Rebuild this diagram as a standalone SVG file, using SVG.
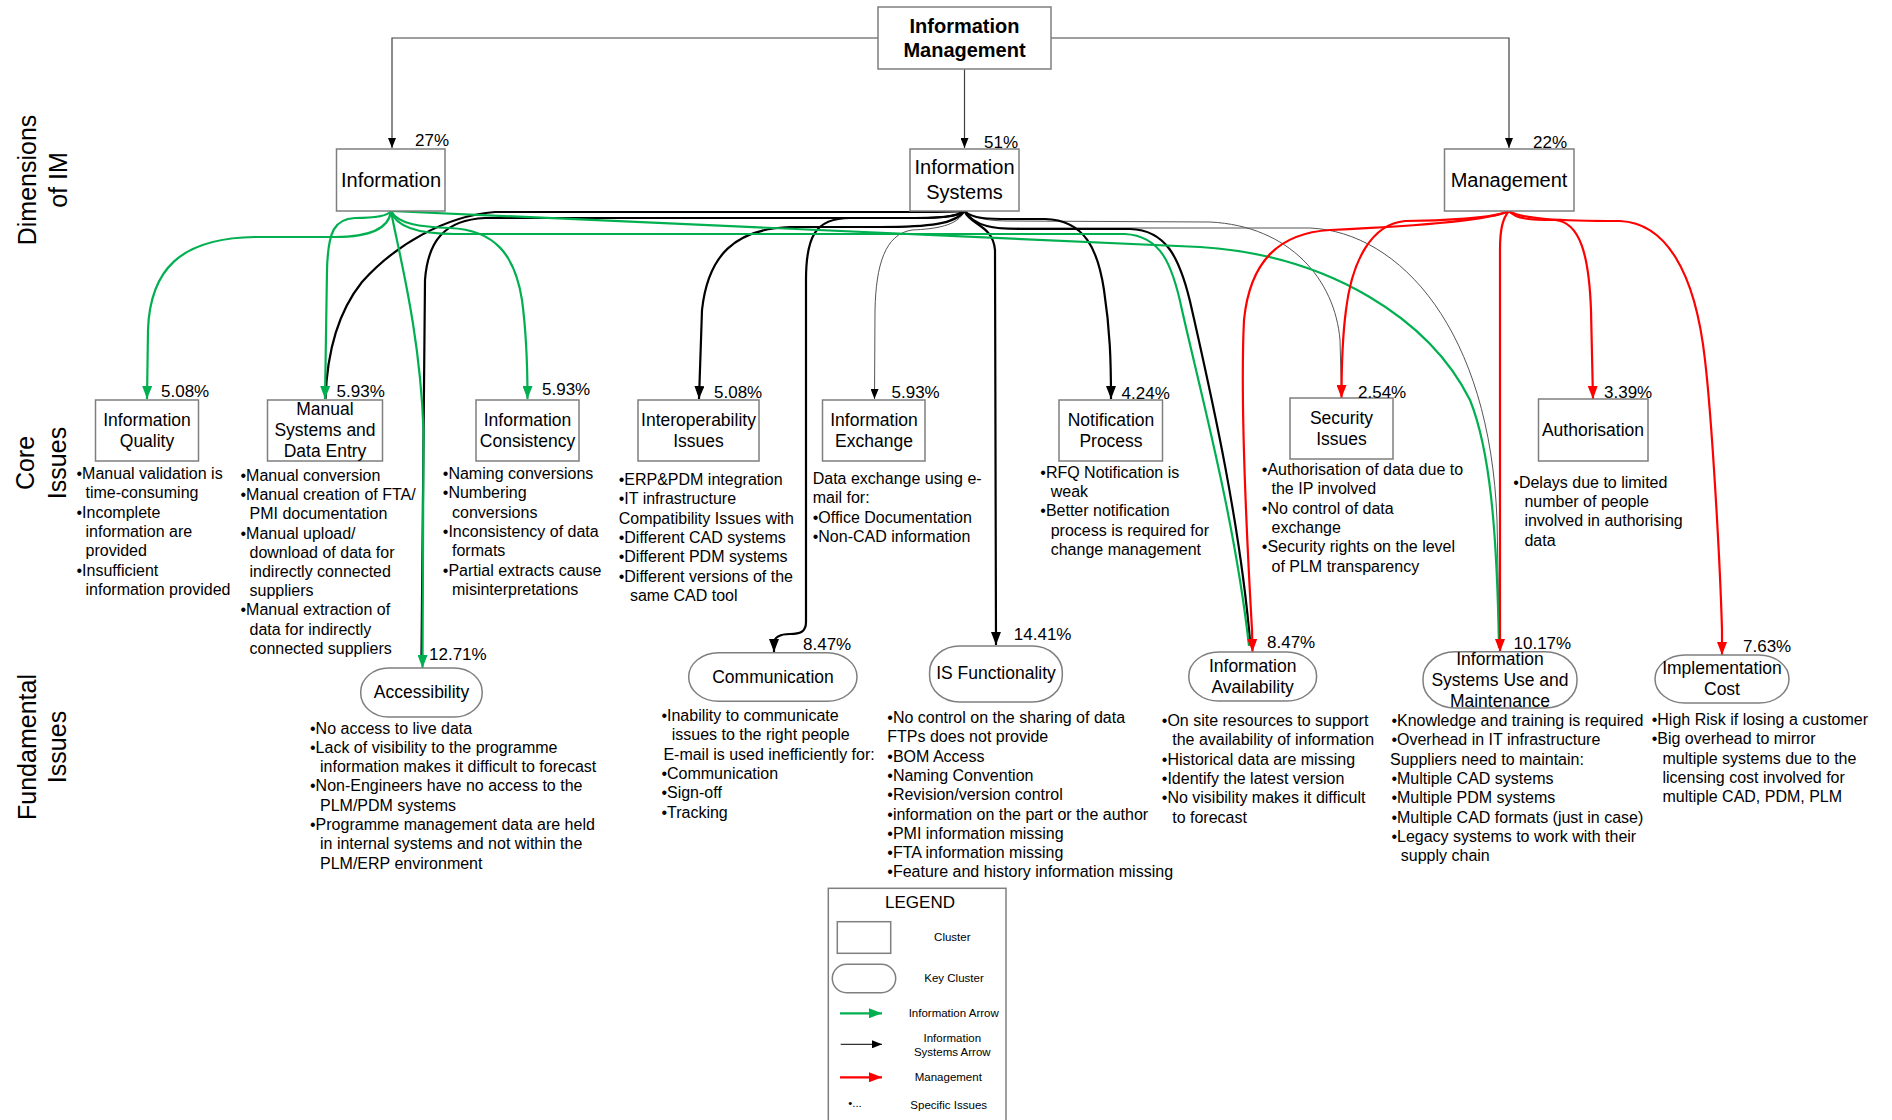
<svg xmlns="http://www.w3.org/2000/svg" width="1892" height="1120" viewBox="0 0 1892 1120">
<style>
text{font-family:"Liberation Sans",Arial,sans-serif;fill:#000}
.box{fill:#fff;stroke:#7f7f7f;stroke-width:1.5}
.b1{font-size:20px;text-anchor:middle}
.b0{font-size:20px;font-weight:bold;text-anchor:middle}
.b2{font-size:17.5px;text-anchor:middle}
.pc{font-size:17px}
.t{font-size:16px}
.side{font-size:25px;text-anchor:middle}
.lg{font-size:11.5px;text-anchor:middle}
.thin{fill:none;stroke:#555;stroke-width:1}
.top{fill:none;stroke:#404040;stroke-width:1.2}
.k{fill:none;stroke:#000;stroke-width:2.2}
.g{fill:none;stroke:#00B050;stroke-width:2.2}
.r{fill:none;stroke:#FF0000;stroke-width:2.2}
</style>
<defs>
<marker id="ag" viewBox="0 0 13 10" refX="13" refY="5" markerWidth="13" markerHeight="10" markerUnits="userSpaceOnUse" orient="auto"><path d="M0,0 L13,5 L0,10 z" fill="#00B050"/></marker>
<marker id="ak" viewBox="0 0 13 10" refX="13" refY="5" markerWidth="13" markerHeight="10" markerUnits="userSpaceOnUse" orient="auto"><path d="M0,0 L13,5 L0,10 z" fill="#000"/></marker>
<marker id="ar" viewBox="0 0 13 10" refX="13" refY="5" markerWidth="13" markerHeight="10" markerUnits="userSpaceOnUse" orient="auto"><path d="M0,0 L13,5 L0,10 z" fill="#FF0000"/></marker>
<marker id="at" viewBox="0 0 10 8" refX="10" refY="4" markerWidth="10" markerHeight="8" markerUnits="userSpaceOnUse" orient="auto"><path d="M0,0 L10,4 L0,8 z" fill="#000"/></marker>
</defs>
<rect width="1892" height="1120" fill="#fff"/>

<g id="side-labels">
<text class="side" transform="translate(35.5,180) rotate(-90)">Dimensions</text>
<text class="side" transform="translate(67,180) rotate(-90)">of IM</text>
<text class="side" transform="translate(34,463) rotate(-90)">Core</text>
<text class="side" transform="translate(66,463) rotate(-90)">Issues</text>
<text class="side" transform="translate(36,747) rotate(-90)">Fundamental</text>
<text class="side" transform="translate(66,747) rotate(-90)">Issues</text>
</g>

<g id="connectors">
<!-- top tree -->
<path class="top" d="M878,38 L392,38 L392,148" marker-end="url(#at)"/>
<path class="top" d="M1051,38 L1509,38 L1509,148" marker-end="url(#at)"/>
<path class="top" d="M964.5,69 L964.5,148" marker-end="url(#at)"/>
<!-- thin information systems arrows -->
<path class="thin" d="M964.5,211 C958,226 935,229 912,230 C885,234 876,265 875,310 L874.5,399" marker-end="url(#at)"/>
<path class="thin" d="M964.5,211 C975,219 990,221 1010,221 L1210,222 C1290,226 1335,280 1340,340 L1341.5,395"/>
<path class="thin" d="M964.5,211 C975,226 990,228 1010,228 L1310,228 C1400,232 1490,330 1497,520 L1499.5,648"/>
<!-- black information systems arrows -->
<path class="k" d="M964.5,211 C955,212 940,212 920,212 L495,212 C445,216 395,245 362,282 C338,312 327,350 325.5,399"/>
<path class="k" d="M964.5,211 C955,217 940,218 920,218 L485,218 C445,220 428,240 425,280 L421.5,655"/>
<path class="k" d="M964.5,211 C955,224 930,227 880,227 L790,227 C735,229 708,255 702,310 L699,399" marker-end="url(#ak)"/>
<path class="k" d="M964.5,211 C958,217 940,218 900,218 L850,218 C815,218 806,237 806,280 L806,622 C806,632 800,634 790,634 C779,634 774,638 774,643 L774,652" marker-end="url(#ak)"/>
<path class="k" d="M964.5,211 C970,225 993,225 995,250 L996,645" marker-end="url(#ak)"/>
<path class="k" d="M964.5,211 C972,219 990,219 1010,219 L1045,219 C1085,220 1098,250 1104,290 C1110,330 1111,360 1111,399" marker-end="url(#ak)"/>
<path class="k" d="M964.5,211 C975,227 995,229 1020,229 L1130,229 C1165,230 1180,255 1192,310 C1210,390 1240,520 1250.5,646"/>
<!-- green information arrows -->
<path class="g" d="M391,211 C389,228 370,237 335,237 L255,237 C180,238 150,270 148,330 L147,399" marker-end="url(#ag)"/>
<path class="g" d="M391,211 C388,216 375,218 355,218 C335,219 328,230 327,270 L325,399" marker-end="url(#ag)"/>
<path class="g" d="M391,211 C398,224 420,227 450,228 C495,230 515,255 522,300 C526,330 527.5,360 527.5,399" marker-end="url(#ag)"/>
<path class="g" d="M391,211 C398,250 420,330 423.5,430 L422.5,668" marker-end="url(#ag)"/>
<path class="g" d="M391,211 C396,228 420,234 455,234 L1125,234 C1160,236 1172,262 1182,310 C1200,390 1235,520 1249,646"/>
<path class="g" d="M391,211 L1200,247 C1330,255 1430,320 1470,400 C1490,450 1497,530 1499,648"/>
<!-- red management arrows -->
<path class="r" d="M1509,211 C1490,220 1420,226 1330,230 C1280,233 1250,260 1244,320 C1240,400 1248,560 1252,630 L1252.5,652" marker-end="url(#ar)"/>
<path class="r" d="M1509,211 C1495,218 1440,221 1405,221 C1372,224 1352,260 1346,310 C1342,340 1341.5,370 1341.5,398" marker-end="url(#ar)"/>
<path class="r" d="M1509,211 C1503,218 1500,228 1500,250 L1500,652" marker-end="url(#ar)"/>
<path class="r" d="M1509,211 C1516,219 1530,220 1555,220 C1580,222 1589,255 1591,310 L1593,399" marker-end="url(#ar)"/>
<path class="r" d="M1509,211 C1520,219 1560,221 1620,221 C1665,223 1695,270 1705,360 C1712,420 1720,560 1722,630 L1722,655" marker-end="url(#ar)"/>
</g>

<g id="n-im">
<rect class="box" x="878" y="7" width="173" height="62"/>
<text class="b0" x="964.5" y="33">Information</text>
<text class="b0" x="964.5" y="57">Management</text>
</g>

<g id="n-information">
<rect class="box" x="336.5" y="149" width="108.5" height="62"/>
<text class="b1" x="391" y="187">Information</text>
<text class="pc" x="415" y="146">27%</text>
</g>
<g id="n-is">
<rect class="box" x="910" y="149" width="109" height="62"/>
<text class="b1" x="964.5" y="174">Information</text>
<text class="b1" x="964.5" y="199">Systems</text>
<text class="pc" x="984" y="148">51%</text>
</g>
<g id="n-management">
<rect class="box" x="1444.5" y="149" width="129.5" height="62"/>
<text class="b1" x="1509" y="187">Management</text>
<text class="pc" x="1533" y="148">22%</text>
</g>

<g id="n-iq">
<rect class="box" x="95.5" y="400" width="103" height="61"/>
<text class="b2" x="147" y="426">Information</text>
<text class="b2" x="147" y="446.7">Quality</text>
<text class="pc" x="161" y="397">5.08%</text>
<text class="t" x="76.5" y="479">•Manual validation is<tspan x="85.5" dy="19.35">time-consuming</tspan><tspan x="76.5" dy="19.35">•Incomplete</tspan><tspan x="85.5" dy="19.35">information are</tspan><tspan x="85.5" dy="19.35">provided</tspan><tspan x="76.5" dy="19.35">•Insufficient</tspan><tspan x="85.5" dy="19.35">information provided</tspan></text>
</g>
<g id="n-ms">
<rect class="box" x="267.5" y="400" width="115" height="61"/>
<text class="b2" x="325" y="415">Manual</text>
<text class="b2" x="325" y="436">Systems and</text>
<text class="b2" x="325" y="457">Data Entry</text>
<text class="pc" x="336.6" y="397">5.93%</text>
<text class="t" x="240.5" y="481">•Manual conversion<tspan x="240.5" dy="19.2">•Manual creation of FTA/</tspan><tspan x="249.5" dy="19.2">PMI documentation</tspan><tspan x="240.5" dy="19.2">•Manual upload/</tspan><tspan x="249.5" dy="19.2">download of data for</tspan><tspan x="249.5" dy="19.2">indirectly connected</tspan><tspan x="249.5" dy="19.2">suppliers</tspan><tspan x="240.5" dy="19.2">•Manual extraction of</tspan><tspan x="249.5" dy="19.2">data for indirectly</tspan><tspan x="249.5" dy="19.2">connected suppliers</tspan></text>
</g>
<g id="n-ic">
<rect class="box" x="476" y="400" width="103" height="61"/>
<text class="b2" x="527.5" y="426">Information</text>
<text class="b2" x="527.5" y="446.7">Consistency</text>
<text class="pc" x="542" y="395">5.93%</text>
<text class="t" x="442.8" y="479">•Naming conversions<tspan x="442.8" dy="19.35">•Numbering</tspan><tspan x="452" dy="19.35">conversions</tspan><tspan x="442.8" dy="19.35">•Inconsistency of data</tspan><tspan x="452" dy="19.35">formats</tspan><tspan x="442.8" dy="19.35">•Partial extracts cause</tspan><tspan x="452" dy="19.35">misinterpretations</tspan></text>
</g>
<g id="n-interop">
<rect class="box" x="638" y="400" width="121" height="61"/>
<text class="b2" x="698.5" y="426">Interoperability</text>
<text class="b2" x="698.5" y="446.7">Issues</text>
<text class="pc" x="714" y="397.5">5.08%</text>
<text class="t" x="618.7" y="485">•ERP&amp;PDM integration<tspan x="618.7" dy="19.35">•IT infrastructure</tspan><tspan x="618.7" dy="19.35">Compatibility Issues with</tspan><tspan x="618.7" dy="19.35">•Different CAD systems</tspan><tspan x="618.7" dy="19.35">•Different PDM systems</tspan><tspan x="618.7" dy="19.35">•Different versions of the</tspan><tspan x="629.9" dy="19.35">same CAD tool</tspan></text>
</g>
<g id="n-ie">
<rect class="box" x="822.5" y="400" width="102.5" height="61"/>
<text class="b2" x="874" y="426">Information</text>
<text class="b2" x="874" y="446.7">Exchange</text>
<text class="pc" x="891.5" y="397.5">5.93%</text>
<text class="t" x="812.7" y="484">Data exchange using e-<tspan x="812.7" dy="19.35">mail for:</tspan><tspan x="812.7" dy="19.35">•Office Documentation</tspan><tspan x="812.7" dy="19.35">•Non-CAD information</tspan></text>
</g>
<g id="n-np">
<rect class="box" x="1059" y="400" width="103.5" height="61"/>
<text class="b2" x="1111" y="426">Notification</text>
<text class="b2" x="1111" y="446.7">Process</text>
<text class="pc" x="1121.6" y="398.5">4.24%</text>
<text class="t" x="1040.3" y="477.5">•RFQ Notification is<tspan x="1050.7" dy="19.35">weak</tspan><tspan x="1040.3" dy="19.35">•Better notification</tspan><tspan x="1050.7" dy="19.35">process is required for</tspan><tspan x="1050.7" dy="19.35">change management</tspan></text>
</g>
<g id="n-sec">
<rect class="box" x="1290" y="398" width="103" height="61"/>
<text class="b2" x="1341.5" y="424.3">Security</text>
<text class="b2" x="1341.5" y="445">Issues</text>
<text class="pc" x="1358" y="398">2.54%</text>
<text class="t" x="1261.8" y="475">•Authorisation of data due to<tspan x="1271.5" dy="19.35">the IP involved</tspan><tspan x="1261.8" dy="19.35">•No control of data</tspan><tspan x="1271.5" dy="19.35">exchange</tspan><tspan x="1261.8" dy="19.35">•Security rights on the level</tspan><tspan x="1271.5" dy="19.35">of PLM transparency</tspan></text>
</g>
<g id="n-auth">
<rect class="box" x="1538.5" y="399" width="109.5" height="62"/>
<text class="b2" x="1593" y="436">Authorisation</text>
<text class="pc" x="1604" y="397.5">3.39%</text>
<text class="t" x="1513.3" y="487.5">•Delays due to limited<tspan x="1524.4" dy="19.35">number of people</tspan><tspan x="1524.4" dy="19.35">involved in authorising</tspan><tspan x="1524.4" dy="19.35">data</tspan></text>
</g>

<g id="n-access">
<rect class="box" x="360.7" y="668" width="121.5" height="49" rx="28" ry="24"/>
<text class="b2" x="421.5" y="697.7">Accessibility</text>
<text class="pc" x="429" y="660">12.71%</text>
<text class="t" x="310" y="733.5">•No access to live data<tspan x="310" dy="19.3">•Lack of visibility to the programme</tspan><tspan x="320" dy="19.3">information makes it difficult to forecast</tspan><tspan x="310" dy="19.3">•Non-Engineers have no access to the</tspan><tspan x="320" dy="19.3">PLM/PDM systems</tspan><tspan x="310" dy="19.3">•Programme management data are held</tspan><tspan x="320" dy="19.3">in internal systems and not within the</tspan><tspan x="320" dy="19.3">PLM/ERP environment</tspan></text>
</g>
<g id="n-comm">
<rect class="box" x="688.7" y="652.7" width="168.3" height="48.6" rx="30" ry="24"/>
<text class="b2" x="773" y="682.7">Communication</text>
<text class="pc" x="803" y="650">8.47%</text>
<text class="t" x="661.4" y="721">•Inability to communicate<tspan x="671.7" dy="19.3">issues to the right people</tspan><tspan x="663.4" dy="19.3">E-mail is used inefficiently for:</tspan><tspan x="661.4" dy="19.3">•Communication</tspan><tspan x="661.4" dy="19.3">•Sign-off</tspan><tspan x="661.4" dy="19.3">•Tracking</tspan></text>
</g>
<g id="n-isf">
<rect class="box" x="929.6" y="646" width="132.7" height="56" rx="30" ry="26"/>
<text class="b2" x="996" y="679.3">IS Functionality</text>
<text class="pc" x="1013.8" y="640">14.41%</text>
<text class="t" x="887.3" y="723">•No control on the sharing of data<tspan x="887.3" dy="19.3">FTPs does not provide</tspan><tspan x="887.3" dy="19.3">•BOM Access</tspan><tspan x="887.3" dy="19.3">•Naming Convention</tspan><tspan x="887.3" dy="19.3">•Revision/version control</tspan><tspan x="887.3" dy="19.3">•information on the part or the author</tspan><tspan x="887.3" dy="19.3">•PMI information missing</tspan><tspan x="887.3" dy="19.3">•FTA information missing</tspan><tspan x="887.3" dy="19.3">•Feature and history information missing</tspan></text>
</g>
<g id="n-ia">
<rect class="box" x="1188.8" y="652" width="127.8" height="49" rx="30" ry="24"/>
<text class="b2" x="1252.7" y="672">Information</text>
<text class="b2" x="1252.7" y="693">Availability</text>
<text class="pc" x="1267" y="647.7">8.47%</text>
<text class="t" x="1161.8" y="726">•On site resources to support<tspan x="1172.2" dy="19.3">the availability of information</tspan><tspan x="1161.8" dy="19.3">•Historical data are missing</tspan><tspan x="1161.8" dy="19.3">•Identify the latest version</tspan><tspan x="1161.8" dy="19.3">•No visibility makes it difficult</tspan><tspan x="1172.2" dy="19.3">to forecast</tspan></text>
</g>
<g id="n-isum">
<rect class="box" x="1423" y="651.7" width="154" height="56.3" rx="32" ry="27"/>
<text class="b2" x="1500" y="665">Information</text>
<text class="b2" x="1500" y="686">Systems Use and</text>
<text class="b2" x="1500" y="706.7">Maintenance</text>
<text class="pc" x="1513.5" y="648.7">10.17%</text>
<text class="t" x="1391.4" y="726">•Knowledge and training is required<tspan x="1391.4" dy="19.3">•Overhead in IT infrastructure</tspan><tspan x="1390" dy="19.3">Suppliers need to maintain:</tspan><tspan x="1391.4" dy="19.3">•Multiple CAD systems</tspan><tspan x="1391.4" dy="19.3">•Multiple PDM systems</tspan><tspan x="1391.4" dy="19.3">•Multiple CAD formats (just in case)</tspan><tspan x="1391.4" dy="19.3">•Legacy systems to work with their</tspan><tspan x="1400.8" dy="19.3">supply chain</tspan></text>
</g>
<g id="n-cost">
<rect class="box" x="1655" y="655" width="134" height="48" rx="30" ry="24"/>
<text class="b2" x="1722" y="674">Implementation</text>
<text class="b2" x="1722" y="695">Cost</text>
<text class="pc" x="1743" y="651.7">7.63%</text>
<text class="t" x="1651.7" y="725">•High Risk if losing a customer<tspan x="1651.7" dy="19.3">•Big overhead to mirror</tspan><tspan x="1662.5" dy="19.3">multiple systems due to the</tspan><tspan x="1662.5" dy="19.3">licensing cost involved for</tspan><tspan x="1662.5" dy="19.3">multiple CAD, PDM, PLM</tspan></text>
</g>

<g id="legend">
<rect class="box" x="828.3" y="888.3" width="177.7" height="240"/>
<text x="920" y="907.5" style="font-size:17px;text-anchor:middle">LEGEND</text>
<rect class="box" x="837.3" y="921.7" width="53.4" height="31.6"/>
<text class="lg" x="952.3" y="940.7">Cluster</text>
<rect class="box" x="832.3" y="964.3" width="63.4" height="28.4" rx="14.2"/>
<text class="lg" x="954" y="981.7">Key Cluster</text>
<path class="g" d="M840,1013.3 L882,1013.3" marker-end="url(#ag)"/>
<text class="lg" x="953.7" y="1017">Information Arrow</text>
<path class="thin" style="stroke:#000" d="M840.7,1044.3 L882,1044.3" marker-end="url(#at)"/>
<text class="lg" x="952.3" y="1041.7">Information</text>
<text class="lg" x="952.3" y="1056">Systems Arrow</text>
<path class="r" d="M840,1077.3 L882,1077.3" marker-end="url(#ar)"/>
<text class="lg" x="948.3" y="1080.7">Management</text>
<text class="lg" x="855" y="1107" style="font-size:11.5px">•...</text>
<text class="lg" x="948.7" y="1109">Specific Issues</text>
</g>
</svg>
